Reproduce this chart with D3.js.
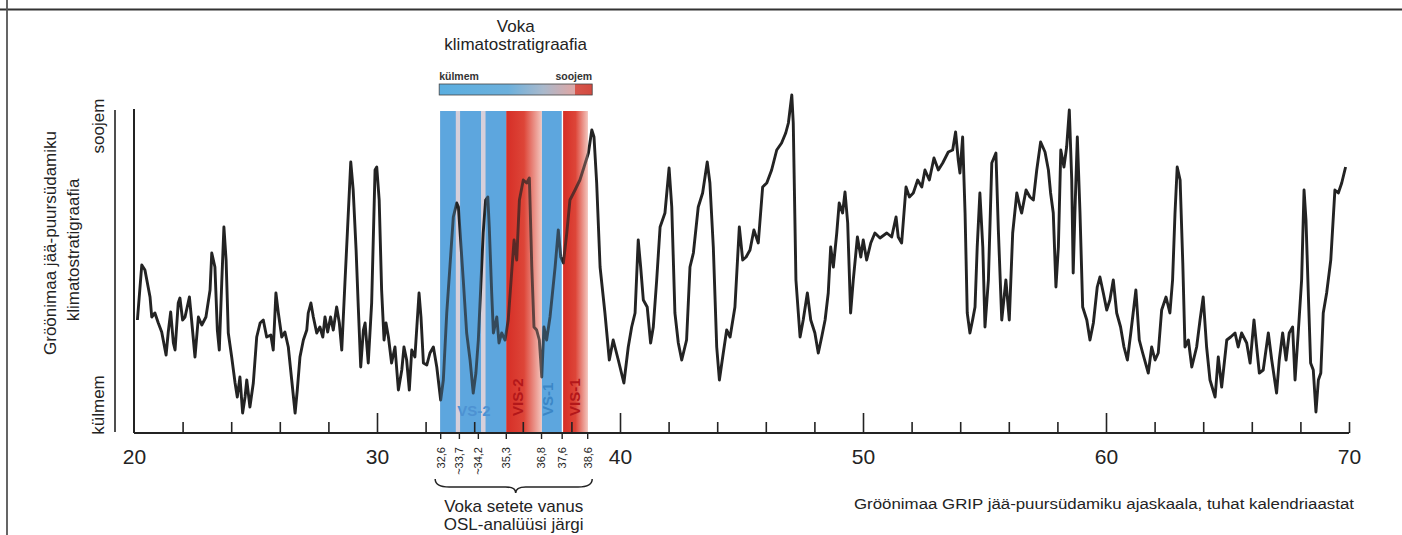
<!DOCTYPE html>
<html>
<head>
<meta charset="utf-8">
<script src="https://cdn.jsdelivr.net/npm/d3@7/dist/d3.min.js"></script>
<style>
body{margin:0;background:#fff;}
svg{display:block;font-family:'Liberation Sans',Arial,sans-serif;}
</style>
</head>
<body>
<svg id="chart" width="1402" height="535"></svg>
<script>
'use strict';
/* globals d3 */

// ---- data ----------------------------------------------------------------
// GRIP time axis, thousand calendar years
var axisYears = [20, 30, 40, 50, 60, 70];

// OSL ages of the Voka sediments (tick positions as drawn, and their labels)
var oslAges   = [32.6, 33.37, 34.15, 35.3, 36.75, 37.6, 38.65];
var oslLabels = ['32,6', '~33,7', '~34,2', '35,3', '36,8', '37,6', '38,6'];

// Voka climatostratigraphy: cold (blue) and warm (red) intervals
var coldBands = [[32.6, 33.24], [33.42, 34.28], [34.47, 35.32], [36.78, 37.6]];
var warmBands = [[35.32, 36.78], [37.66, 38.68]];
var unitLabels    = ['VS-2', 'VIS-2', 'VS-1', 'VIS-1'];
var unitLabelAges = [33.99, 35.8, 37.04, 38.15];

// GRIP climate curve, [age ka, relative warmth] (0 = colder, 32 = warmer)
var gripCurve = [
    [20.14,11.2],[20.32,16.7],[20.45,16.2],[20.66,13.5],[20.73,11.5],[20.86,11.9],[21.0,10.9],[21.14,10.0],
    [21.32,7.7],[21.41,10.0],[21.51,12.0],[21.62,8.9],[21.69,8.2],[21.82,12.9],[21.89,13.4],[22.0,11.2],
    [22.1,11.5],[22.28,13.5],[22.37,11.2],[22.51,7.5],[22.65,11.5],[22.79,10.7],[22.96,11.5],[23.13,14.2],
    [23.2,17.9],[23.33,16.5],[23.43,10.2],[23.51,8.2],[23.61,14.9],[23.7,20.5],[23.79,17.2],[23.88,9.9],
    [24.02,7.5],[24.16,4.9],[24.25,3.5],[24.36,5.5],[24.47,1.9],[24.57,3.5],[24.64,5.2],[24.77,2.5],
    [24.91,4.9],[25.05,9.5],[25.19,10.9],[25.32,11.2],[25.46,9.5],[25.63,9.7],[25.73,8.2],[25.84,13.9],
    [25.94,11.9],[26.08,9.5],[26.21,10.0],[26.35,8.5],[26.49,5.2],[26.63,1.9],[26.72,4.2],[26.83,7.5],
    [26.97,9.2],[27.11,10.2],[27.17,11.9],[27.28,12.9],[27.38,11.5],[27.52,9.9],[27.65,10.5],[27.77,9.5],
    [27.86,11.5],[27.97,10.0],[28.09,11.5],[28.2,10.2],[28.34,12.5],[28.45,10.9],[28.55,8.2],[28.68,14.9],
    [28.78,19.9],[28.92,27.0],[29.02,24.2],[29.14,18.2],[29.23,12.5],[29.33,6.5],[29.44,10.2],[29.51,10.9],
    [29.64,6.9],[29.78,12.9],[29.92,26.2],[29.99,26.5],[30.09,23.2],[30.19,14.2],[30.29,9.2],[30.37,10.9],
    [30.47,9.5],[30.6,6.9],[30.74,8.5],[30.88,4.2],[31.02,6.2],[31.11,8.5],[31.22,7.2],[31.33,4.2],
    [31.43,8.2],[31.56,7.5],[31.73,13.9],[31.81,11.5],[31.91,6.9],[32.05,6.7],[32.18,7.9],[32.32,8.5],
    [32.46,6.5],[32.62,3.2],[32.73,5.2],[32.87,11.9],[33.0,16.5],[33.14,21.5],[33.28,22.9],[33.35,22.5],
    [33.44,19.2],[33.55,15.2],[33.69,9.9],[33.83,7.2],[33.96,3.9],[34.07,5.9],[34.17,9.2],[34.27,14.5],
    [34.37,19.9],[34.47,23.2],[34.56,23.5],[34.62,20.5],[34.72,13.9],[34.79,9.9],[34.93,11.5],[35.02,8.9],
    [35.13,9.9],[35.27,9.2],[35.4,11.2],[35.54,15.9],[35.64,19.2],[35.75,17.2],[35.86,23.2],[36.02,25.2],
    [36.16,24.9],[36.27,25.4],[36.37,16.5],[36.46,10.5],[36.57,10.2],[36.68,9.2],[36.78,5.5],[36.87,10.5],
    [36.98,9.2],[37.12,11.5],[37.33,16.5],[37.46,20.2],[37.56,17.5],[37.67,16.9],[37.81,19.9],[37.94,23.2],
    [38.15,24.2],[38.35,25.2],[38.52,26.5],[38.7,27.9],[38.84,30.2],[38.93,29.5],[39.04,24.9],[39.18,16.5],
    [39.38,11.9],[39.56,7.2],[39.72,9.2],[39.93,7.2],[40.16,4.9],[40.34,8.5],[40.48,10.5],[40.62,11.9],
    [40.75,19.2],[40.85,16.5],[40.96,13.2],[41.12,12.5],[41.26,8.9],[41.37,10.5],[41.51,15.2],[41.65,20.5],
    [41.85,21.9],[42.02,26.4],[42.13,22.5],[42.26,11.9],[42.4,8.9],[42.54,7.2],[42.74,9.2],[42.88,16.5],
    [43.02,17.9],[43.22,22.5],[43.4,23.9],[43.59,27.0],[43.7,24.9],[43.84,18.5],[43.98,8.5],[44.09,5.2],
    [44.25,7.9],[44.39,10.2],[44.53,9.5],[44.73,12.5],[44.91,20.5],[45.05,17.2],[45.19,17.5],[45.35,18.2],
    [45.51,20.2],[45.69,18.9],[45.87,24.5],[46.04,24.9],[46.24,26.2],[46.45,28.2],[46.65,28.9],[46.82,29.9],
    [46.93,30.9],[47.07,33.7],[47.13,30.9],[47.24,15.2],[47.41,9.5],[47.54,11.2],[47.71,13.9],[47.85,11.2],
    [48.02,9.9],[48.16,7.9],[48.3,9.5],[48.44,11.2],[48.57,13.9],[48.67,18.5],[48.78,16.5],[48.92,19.9],
    [49.02,22.9],[49.16,21.9],[49.26,24.0],[49.37,20.9],[49.49,11.9],[49.6,15.2],[49.77,19.5],[49.91,17.5],
    [50.01,19.2],[50.15,17.2],[50.32,18.9],[50.49,19.9],[50.7,19.4],[50.98,19.9],[51.18,19.5],[51.36,21.5],
    [51.45,19.5],[51.59,18.9],[51.77,24.5],[51.91,23.5],[52.07,23.9],[52.25,25.2],[52.42,24.5],[52.55,26.2],
    [52.73,25.2],[52.92,27.4],[53.1,26.2],[53.28,26.9],[53.51,28.0],[53.69,28.2],[53.81,30.0],[53.92,27.2],
    [53.99,25.9],[54.1,29.5],[54.2,21.9],[54.29,11.9],[54.4,9.9],[54.51,11.2],[54.61,12.5],[54.7,18.5],
    [54.81,23.9],[54.93,18.5],[55.02,10.5],[55.16,15.2],[55.3,26.9],[55.47,27.9],[55.57,20.2],[55.71,11.2],
    [55.88,15.2],[56.02,11.2],[56.16,19.9],[56.33,23.9],[56.46,22.5],[56.53,21.9],[56.71,24.2],[56.87,23.5],
    [57.01,23.2],[57.15,26.2],[57.31,29.0],[57.49,28.0],[57.63,26.2],[57.72,23.9],[57.83,21.9],[57.94,14.5],
    [58.04,18.5],[58.14,28.2],[58.27,26.5],[58.38,28.5],[58.49,32.2],[58.59,25.2],[58.65,15.9],[58.72,21.9],
    [58.82,29.5],[58.93,21.9],[59.04,12.5],[59.21,11.2],[59.34,9.2],[59.48,10.9],[59.64,14.5],[59.75,15.5],
    [59.89,13.9],[60.03,12.2],[60.16,13.2],[60.3,15.2],[60.44,11.9],[60.6,10.5],[60.74,8.5],[60.88,7.2],
    [61.02,9.9],[61.23,14.2],[61.37,9.2],[61.51,7.9],[61.74,5.9],[61.88,8.5],[62.02,7.2],[62.15,7.9],
    [62.29,12.2],[62.47,13.5],[62.63,11.9],[62.74,15.2],[62.84,21.9],[62.93,26.5],[63.05,25.2],[63.16,16.9],
    [63.25,8.5],[63.39,9.2],[63.53,6.5],[63.73,8.5],[63.87,11.2],[64.0,13.5],[64.14,8.5],[64.28,5.2],
    [64.49,3.5],[64.62,7.5],[64.76,4.5],[64.97,9.2],[65.13,9.5],[65.31,9.9],[65.44,8.5],[65.58,9.9],
    [65.79,8.9],[65.93,6.9],[66.09,11.2],[66.2,8.5],[66.31,5.9],[66.47,6.2],[66.68,9.9],[66.82,7.2],
    [67.02,3.9],[67.13,7.2],[67.27,9.9],[67.41,7.2],[67.54,9.9],[67.68,10.5],[67.78,5.2],[67.91,9.9],
    [68.05,15.2],[68.15,24.2],[68.23,21.2],[68.33,13.5],[68.42,6.9],[68.53,6.2],[68.64,2.0],[68.74,5.2],
    [68.84,5.9],[68.94,11.9],[69.08,13.9],[69.25,17.2],[69.42,24.2],[69.56,23.9],[69.7,24.9],[69.86,26.5]
];

(function(){

var svg = d3.select('#chart');
var ink = '#232323';
var blue = '#5ea6de';

var x = d3.scaleLinear().domain([20, 70]).range([134, 1349]);
var y = d3.scaleLinear().domain([0, 32.2]).range([432, 110]);
var axisY = 433;
var bandTop = 111;

var defs = svg.append('defs');

/**
 * Horizontal gradient helper
 * @param {string} id Gradient id
 * @param {Array} stops [[offset, colour], ...]
 */
function gradient(id, stops){
    var g = defs.append('linearGradient').attr('id', id)
        .attr('x1', 0).attr('x2', 1).attr('y1', 0).attr('y2', 0);
    stops.forEach(function(s){
        g.append('stop').attr('offset', s[0]).attr('stop-color', s[1]);
    });
}
gradient('warmFade', [[0, '#d62e26'], [0.5, '#dd4538'], [1, '#f3c6be']]);
gradient('legendBar', [[0, '#5aaee0'], [0.45, '#6cb0dc'], [0.68, '#a9b9cc'],
    [0.86, '#d9a9a9'], [0.885, '#d9a9a9'], [0.89, '#d6564c'], [1, '#d34a40']]);

// page frame lines
svg.append('line').attr('x1', 0).attr('x2', 1402).attr('y1', 9.5).attr('y2', 9.5)
    .attr('stroke', '#333').attr('stroke-width', 2);
svg.append('line').attr('x1', 7).attr('x2', 7).attr('y1', 0).attr('y2', 535)
    .attr('stroke', '#555').attr('stroke-width', 1.8);

// ---- legend on top ---------------------------------------------------------
var lx0 = x(oslAges[0]) - 1, lx1 = x(oslAges[oslAges.length - 1]) + 5;
var lmid = (lx0 + lx1) / 2;
svg.append('text').attr('x', lmid).attr('y', 32).attr('text-anchor', 'middle')
    .attr('font-size', 17).attr('fill', ink).text('Voka');
svg.append('text').attr('x', lmid).attr('y', 50).attr('text-anchor', 'middle')
    .attr('font-size', 17).attr('fill', ink).text('klimatostratigraafia');
svg.append('text').attr('x', lx0).attr('y', 80).attr('font-size', 10.5)
    .attr('font-weight', 'bold').attr('fill', '#333').text('külmem');
svg.append('text').attr('x', lx1).attr('y', 80).attr('font-size', 10.5)
    .attr('text-anchor', 'end').attr('font-weight', 'bold').attr('fill', '#333').text('soojem');
svg.append('rect').attr('x', lx0).attr('y', 84).attr('width', lx1 - lx0).attr('height', 11)
    .attr('fill', 'url(#legendBar)').attr('stroke', '#444').attr('stroke-width', 0.8);

// ---- bands --------------------------------------------------------------
var bandLayer = svg.append('g');
// pale gaps between the cold intervals
bandLayer.append('rect')
    .attr('x', x(coldBands[0][0])).attr('y', bandTop)
    .attr('width', x(coldBands[2][1]) - x(coldBands[0][0]))
    .attr('height', axisY - bandTop).attr('fill', '#d6cfda');

/**
 * Draws cold and warm rectangles
 * @param {Object} layer d3 selection
 * @param {number} opacity Fill opacity
 */
function drawBands(layer, opacity){
    layer.selectAll(null).data(coldBands).enter().append('rect')
        .attr('x', function(d){ return x(d[0]); })
        .attr('width', function(d){ return x(d[1]) - x(d[0]); })
        .attr('y', bandTop).attr('height', axisY - bandTop)
        .attr('fill', blue).attr('opacity', opacity);
    layer.selectAll(null).data(warmBands).enter().append('rect')
        .attr('x', function(d){ return x(d[0]); })
        .attr('width', function(d){ return x(d[1]) - x(d[0]); })
        .attr('y', bandTop).attr('height', axisY - bandTop)
        .attr('fill', 'url(#warmFade)').attr('opacity', opacity);
}
drawBands(bandLayer, 1);

// ---- curve --------------------------------------------------------------
var line = d3.line()
    .x(function(d){ return x(d[0]); })
    .y(function(d){ return y(d[1]); });

svg.append('path').datum(gripCurve)
    .attr('d', line)
    .attr('fill', 'none')
    .attr('stroke', ink)
    .attr('stroke-width', 2.9)
    .attr('stroke-linejoin', 'round');

// tint the curve where it crosses the bands
drawBands(svg.append('g'), 0.3);

// unit labels inside the bands
unitLabels.forEach(function(t, i){
    var cx = x(unitLabelAges[i]);
    var warm = t.indexOf('VIS') === 0;
    var lab = svg.append('text')
        .attr('font-size', 15).attr('font-weight', 'bold')
        .attr('fill', warm ? '#b3171a' : (i === 0 ? '#4d92d2' : '#3b86c6'))
        .text(t);
    if (i === 0){
        lab.attr('x', cx).attr('y', 416).attr('text-anchor', 'middle');
    } else {
        lab.attr('transform', 'translate(' + (cx + 5) + ',416) rotate(-90)');
    }
});

// ---- axes ---------------------------------------------------------------
var minor = svg.append('g').attr('transform', 'translate(0,' + axisY + ')')
    .call(d3.axisTop(x).tickValues(d3.range(22, 70.1, 2)).tickSize(11).tickFormat(''));
minor.select('.domain').remove();
minor.selectAll('.tick line')
    .attr('stroke', ink).attr('stroke-width', 1.6)
    .attr('y2', function(d){ return (d % 10 === 0 && d < 70) ? -20 : -11; });

var labels = svg.append('g').attr('transform', 'translate(0,' + axisY + ')')
    .call(d3.axisBottom(x).tickValues(axisYears).tickSize(0).tickPadding(16));
labels.select('.domain').remove();
labels.selectAll('text').attr('font-size', 21).attr('fill', ink)
    .attr('font-family', 'Liberation Sans, Arial, sans-serif');

var osl = svg.append('g').attr('transform', 'translate(0,' + axisY + ')')
    .call(d3.axisBottom(x).tickValues(oslAges).tickSize(6)
        .tickFormat(function(d, i){ return oslLabels[i]; }));
osl.select('.domain').remove();
osl.selectAll('.tick line').attr('stroke', ink).attr('stroke-width', 1.4);
osl.selectAll('text')
    .attr('transform', 'rotate(-90)')
    .attr('x', -14).attr('y', 0).attr('dy', '0.35em')
    .attr('text-anchor', 'end')
    .attr('font-size', 11).attr('fill', ink)
    .attr('font-family', 'Liberation Sans, Arial, sans-serif');

// axis lines
svg.append('line').attr('x1', x(20)).attr('x2', x(70)).attr('y1', axisY).attr('y2', axisY)
    .attr('stroke', ink).attr('stroke-width', 2);
svg.append('line').attr('x1', x(20)).attr('x2', x(20)).attr('y1', 109).attr('y2', axisY)
    .attr('stroke', ink).attr('stroke-width', 2);
svg.append('line').attr('x1', 115).attr('x2', 115).attr('y1', 110).attr('y2', 432)
    .attr('stroke', ink).attr('stroke-width', 1.6);

// ---- y axis texts -----------------------------------------------------------
/**
 * Vertical (rotated) text centred on cy
 */
function vtext(bx, cy, str){
    return svg.append('text')
        .attr('transform', 'translate(' + bx + ',' + cy + ') rotate(-90)')
        .attr('text-anchor', 'middle').attr('font-size', 17).attr('fill', ink)
        .text(str);
}
vtext(56, 243, 'Gröönimaa jää-puursüdamiku');
vtext(79, 250, 'klimatostratigraafia');
vtext(104, 126, 'soojem');
vtext(104, 405, 'külmem');

// ---- brace and OSL caption --------------------------------------------------
var bx0 = x(oslAges[0]) - 5, bx1 = x(oslAges[oslAges.length - 1]) + 5;
var bm = (bx0 + bx1) / 2 + 2;
svg.append('path')
    .attr('d', 'M' + bx0 + ',479 Q' + bx0 + ',487 ' + (bx0 + 14) + ',487 L' + (bm - 10) + ',487' +
        ' Q' + bm + ',487 ' + bm + ',493 Q' + bm + ',487 ' + (bm + 10) + ',487 L' +
        (bx1 - 14) + ',487 Q' + bx1 + ',487 ' + bx1 + ',479')
    .attr('fill', 'none').attr('stroke', ink).attr('stroke-width', 1.5);
svg.append('text').attr('x', bm - 2).attr('y', 512).attr('text-anchor', 'middle')
    .attr('font-size', 17).attr('fill', ink).text('Voka setete vanus');
svg.append('text').attr('x', bm - 2).attr('y', 530).attr('text-anchor', 'middle')
    .attr('font-size', 17).attr('fill', ink).text('OSL-analüüsi järgi');

// x axis title
svg.append('text').attr('x', 854).attr('y', 509)
    .attr('font-size', 15.5).attr('fill', ink)
    .attr('textLength', 500).attr('lengthAdjust', 'spacingAndGlyphs')
    .text('Gröönimaa  GRIP jää-puursüdamiku ajaskaala, tuhat kalendriaastat');

})();
</script>
</body>
</html>
